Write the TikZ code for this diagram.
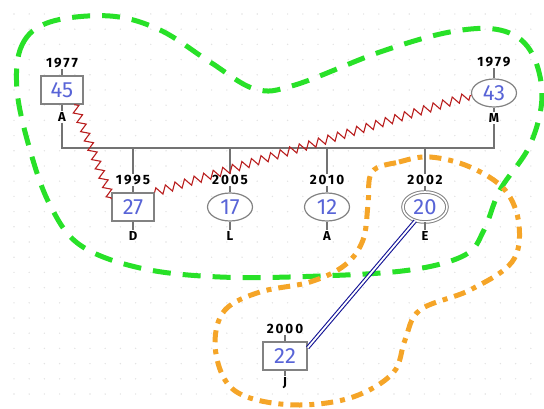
\documentclass[tikz,border=0pt]{standalone}
\usepackage{fontspec}
\setmainfont{Fira Sans}
\newfontfamily\yearfont[LetterSpace=14]{Fira Sans}
\usetikzlibrary{shapes.geometric,decorations.pathmorphing}
\definecolor{numblue}{RGB}{88,100,215}
\definecolor{nodegray}{RGB}{130,130,130}
\definecolor{linegray}{RGB}{115,115,115}
\definecolor{zzred}{RGB}{185,30,30}
\definecolor{grn}{RGB}{40,225,40}
\definecolor{org}{RGB}{245,165,40}
\definecolor{dblue}{RGB}{20,20,150}
\begin{document}
\begin{tikzpicture}[x=1pt,y=-1pt,
  person/.style={draw=nodegray,line width=1.2pt,fill=white,inner sep=0pt,
     text=numblue,font=\fontsize{22}{22}\selectfont},
  male/.style={person,rectangle,minimum width=42pt,minimum height=28pt},
  female/.style={person,ellipse,minimum width=45pt,minimum height=28pt},
  yearlbl/.style={font=\yearfont\bfseries\fontsize{13.5}{13.5}\selectfont,inner sep=1pt},
  namelbl/.style={font=\bfseries\fontsize{13}{13}\selectfont,inner sep=1pt},
  rel/.style={draw=linegray,line width=1.6pt},
  zz/.style={draw=zzred,line width=1.1pt,decorate,
     decoration={zigzag,amplitude=4pt,segment length=10pt}},
  grp/.style={line width=5pt,smooth cycle,tension=0.6}
]
\useasboundingbox (0,0) rectangle (544,409);
% dotted background
\foreach \i in {0,...,34}{
  \foreach \j in {0,...,25}{
    \fill[gray!22] (14+15.2*\i,14+15.2*\j) circle (0.8pt);
  }
}
% parents
\node[male]   (p45) at (62,90) {45};
\node[female] (p43) at (494,93) {43};
\node[yearlbl] (y45) at (62,63) {1977};
\node[yearlbl] (y43) at (494,62) {1979};
\node[namelbl] (n45) at (62,117) {A};
\node[namelbl] (n43) at (494,118) {M};
% children
\node[male]   (p27) at (133,207) {27};
\node[female] (p17) at (230,207) {17};
\node[female] (p12) at (327,207) {12};
\node[female,double=white,double distance=1.6pt,line width=1pt,minimum width=44pt,minimum height=30pt] (p20) at (425,207) {20};
\node[male,minimum width=44pt] (p22) at (285,356) {22};
\foreach \n/\x/\yr/\nm in {27/133/1995/D,17/230/2005/L,12/327/2010/A,20/425/2002/E}{
  \node[yearlbl] (y\n) at (\x,180) {\yr};
  \node[namelbl] (n\n) at (\x,236) {\nm};
}
\node[yearlbl] (y22) at (285,329) {2000};
\node[namelbl] (n22) at (285,383) {J};
% bus
\coordinate (bA) at (62,148);
\coordinate (bM) at (494,148);
\draw[rel] (y45.south) -- (p45.north);
\draw[rel] (y43.south) -- (p43.north);
\draw[rel] (p45.south) -- (n45.north);
\draw[rel] (p43.south) -- (n43.north);
\draw[rel] (n45.south) -- (bA) -- (bM) -- (n43.south);
\foreach \n in {27,17,12,20}{
  \draw[rel] (y\n.north) -- (y\n.north |- bA);
  \draw[rel] (y\n.south) -- (p\n.north);
  \draw[rel] (p\n.south) -- (n\n.north);
}
\draw[rel] (y22.south) -- (p22.north);
\draw[rel] (p22.south) -- (n22.north);
% zigzag relations
\draw[zz] (p45.-50) -- (p27.160);
\draw[zz] (p27.north east) -- (p43.186);
% groups
\draw[grn,grp,dash pattern=on 18pt off 12pt] plot coordinates {
 (17,90) (22,45) (50,22) (110,16) (160,30) (210,62) (255,89) (295,85)
 (380,52) (450,32) (500,30) (530,50) (542,95) (530,145) (500,190) (484,230)
 (465,255) (410,270) (320,276) (220,277) (140,268) (80,245) (50,205) (30,150)};
\draw[org,grp,dash pattern=on 12pt off 7pt on 5pt off 7pt] plot coordinates {
 (372,172) (399,162) (430,157) (470,167) (505,190) (519,225) (512,262)
 (470,290) (420,310) (405,340) (393,373) (353,397) (300,405) (250,398)
 (225,380) (215,343) (225,310) (260,292) (310,282) (345,265) (363,240) (368,205)};
% blue double line
\draw[draw=dblue,double=white,double distance=1.8pt,line width=1.1pt] (p20.-125) -- (p22.20);
\end{tikzpicture}
\end{document}
